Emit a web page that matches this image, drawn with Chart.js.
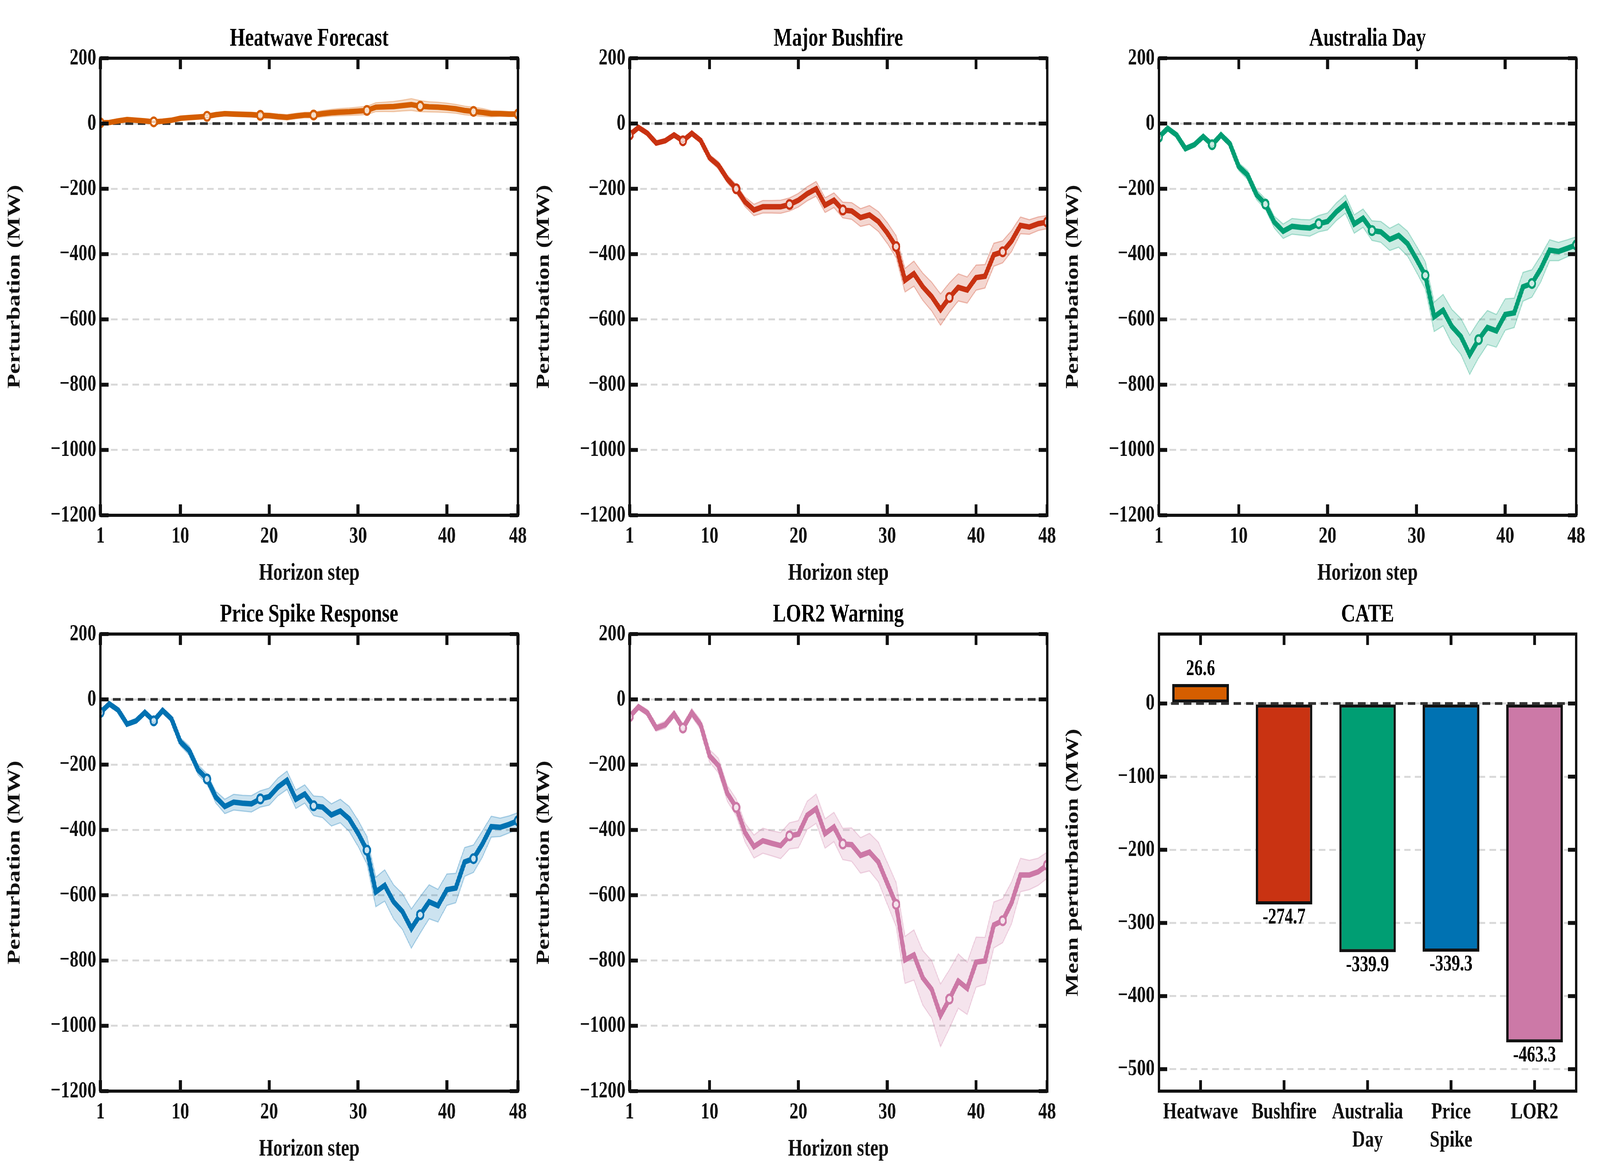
<!DOCTYPE html>
<html><head><meta charset="utf-8">
<script src="https://cdn.jsdelivr.net/npm/chart.js@4.4.1/dist/chart.umd.min.js"></script>
<style>html,body{margin:0;padding:0;background:#fff;overflow:hidden}#wrap{position:absolute;left:0;top:0;width:5400px;height:3000px;transform-origin:0 0}canvas{position:absolute}</style>
</head><body><div id="wrap"></div>
<script>
const steps = Array.from({length:48},(_,i)=>i+1);
const titles = ["Heatwave Forecast","Major Bushfire","Australia Day","Price Spike Response","LOR2 Warning"];
const colors = ["#D55E00","#C93312","#009E73","#0072B2","#CC79A7"];
const heatwave = [2,3,8,12,10,8,5,7,10,16,18,20,22,27,30,29,28,27,25,24,21,19,23,26,26,30,33,35,36,38,40,50,51,52,55,58,53,51,50,48,45,40,37,34,30,30,29,29];
const bushfire = [-35,-12,-30,-60,-53,-35,-53,-30,-52,-105,-128,-170,-200,-240,-265,-255,-255,-255,-248,-235,-215,-200,-250,-235,-265,-268,-288,-280,-300,-335,-377,-480,-460,-500,-530,-570,-533,-502,-510,-472,-468,-402,-393,-360,-312,-317,-307,-302];
const australiaDay = [-42,-15,-35,-77,-65,-40,-65,-35,-62,-132,-158,-218,-247,-302,-330,-315,-318,-320,-307,-300,-270,-247,-308,-290,-328,-332,-355,-343,-368,-415,-465,-592,-572,-622,-652,-708,-662,-625,-635,-585,-580,-500,-490,-445,-388,-392,-382,-372];
const priceSpike = [-40,-14,-33,-76,-66,-40,-66,-34,-60,-130,-157,-216,-244,-300,-328,-315,-318,-320,-305,-298,-268,-248,-306,-290,-326,-330,-354,-342,-366,-410,-462,-590,-570,-620,-650,-702,-660,-620,-632,-583,-578,-498,-488,-443,-390,-392,-383,-372];
const lor2 = [-53,-23,-41,-88,-78,-45,-88,-41,-78,-173,-203,-288,-331,-408,-451,-433,-441,-448,-418,-413,-355,-335,-411,-391,-443,-445,-478,-468,-498,-563,-628,-798,-783,-853,-888,-968,-918,-863,-885,-805,-801,-691,-678,-623,-538,-538,-528,-508];
const bandHalf = [4,5,6,6,7,7,8,8,9,12,14,15,16,18,22,24,24,25,25,26,27,28,28,28,30,32,34,36,38,40,42,45,48,52,55,60,56,52,50,48,45,44,42,40,32,28,26,25];
const bandScale = [0.3,0.8,1,1,1.6];
const markerSteps = [1,7,13,19,25,31,37,43,48];
const xTicks = [1,10,20,30,40,48];
const yTicks = [200,0,-200,-400,-600,-800,-1000,-1200];
const cateLabels = [["Heatwave"],["Bushfire"],["Australia","Day"],["Price","Spike"],["LOR2"]];
const cateValues = [26.6,-274.7,-339.9,-339.3,-463.3];
const cateTicks = [0,-100,-200,-300,-400,-500];
const series = [heatwave,bushfire,australiaDay,priceSpike,lor2];

const wrap=document.getElementById('wrap');
wrap.style.transform=`scale(${innerWidth/5400},${innerHeight/3000})`;

const FONT = "'Liberation Serif','Times New Roman',serif";
const PL=330, PT=140, PR=60, PB=190;
const cols=[339,2125,3911], rows=[149,1623], PW=1409, PH=1170;

function hexA(h,a){const n=parseInt(h.slice(1),16);return `rgba(${n>>16},${(n>>8)&255},${n&255},${a})`;}
function fmt(v){return v<0?'\u2212'+Math.abs(v):String(v);}

function framePlugin(title, zeroOnTop, xtickPos){
  return {
    id:'frame',
    beforeDatasetsDraw(c){ if(!zeroOnTop) zero(c); },
    afterDatasetsDraw(c){ if(zeroOnTop) zero(c); },
    afterDraw(c){
      const a=c.chartArea, ctx=c.ctx, y=c.scales.y;
      ctx.save();
      ctx.strokeStyle='#111'; ctx.lineWidth=8;
      ctx.strokeRect(a.left,a.top,a.right-a.left,a.bottom-a.top);
      ctx.lineWidth=10;
      const L=28;
      y.ticks.forEach(t=>{const py=y.getPixelForValue(t.value);
        ctx.beginPath();ctx.moveTo(a.left,py);ctx.lineTo(a.left+L,py);ctx.moveTo(a.right,py);ctx.lineTo(a.right-L,py);ctx.stroke();});
      xtickPos(c).forEach(px=>{
        ctx.beginPath();ctx.moveTo(px,a.bottom);ctx.lineTo(px,a.bottom-L);ctx.moveTo(px,a.top);ctx.lineTo(px,a.top+L);ctx.stroke();});
      ctx.fillStyle='#000'; ctx.font=`bold 66px ${FONT}`; ctx.textAlign='center'; ctx.textBaseline='bottom';
      ctx.fillText(title,(a.left+a.right)/2,a.top-16);
      ctx.restore();
    }
  };
  function zero(c){
    const a=c.chartArea, ctx=c.ctx, py=c.scales.y.getPixelForValue(0);
    ctx.save(); ctx.strokeStyle='#333'; ctx.lineWidth=7; ctx.setLineDash([26,16]);
    ctx.beginPath(); ctx.moveTo(a.left,py); ctx.lineTo(a.right,py); ctx.stroke(); ctx.restore();
  }
}

function makeCanvas(px,py){
  const cv=document.createElement('canvas');
  const w=PW+PL+PR, h=PH+PT+PB;
  cv.width=w; cv.height=h; cv.style.width=w+'px'; cv.style.height=h+'px';
  cv.style.left=(px-PL)+'px'; cv.style.top=(py-PT)+'px';
  wrap.appendChild(cv); return cv;
}

const tickFont={family:FONT,size:60,weight:'bold'};
const titleFont={family:FONT,size:62,weight:'bold'};
const gridOpt={color:'#d9d9d9',lineWidth:5,drawTicks:false};
const yBorder={display:false,dash:[22,14]};

const positions=[[0,0],[1,0],[2,0],[0,1],[1,1]];
series.forEach((vals,i)=>{
  const [ci,ri]=positions[i];
  const cv=makeCanvas(cols[ci],rows[ri]);
  const col=colors[i];
  const lo=vals.map((v,k)=>({x:steps[k],y:v-bandHalf[k]*bandScale[i]}));
  const hi=vals.map((v,k)=>({x:steps[k],y:v+bandHalf[k]*bandScale[i]}));
  new Chart(cv,{
    type:'line',
    data:{datasets:[
      {data:lo,borderColor:hexA(col,0.3),borderWidth:3,pointRadius:0,fill:false},
      {data:hi,borderColor:hexA(col,0.3),borderWidth:3,pointRadius:0,fill:'-1',backgroundColor:hexA(col,0.2)},
      {data:vals.map((v,k)=>({x:steps[k],y:v})),borderColor:col,borderWidth:14,fill:false,
       pointRadius:ctx=>markerSteps.includes(steps[ctx.dataIndex])?11:0,
       pointBackgroundColor:'#fff',pointBorderColor:col,pointBorderWidth:6}
    ]},
    options:{responsive:false,animation:false,devicePixelRatio:1,
      layout:{padding:{left:0,top:PT,right:PR,bottom:0}},
      plugins:{legend:{display:false},tooltip:{enabled:false}},
      scales:{
        x:{type:'linear',min:1,max:48,grid:{display:false},border:{display:false},
          afterBuildTicks:s=>{s.ticks=xTicks.map(v=>({value:v}));},
          afterFit:s=>{s.height=PB;},
          ticks:{font:tickFont,color:'#111',padding:10,maxRotation:0,callback:v=>String(v)},
          title:{display:true,text:'Horizon step',font:titleFont,color:'#111',padding:{top:0}}},
        y:{min:-1200,max:200,border:yBorder,grid:gridOpt,
          afterBuildTicks:s=>{s.ticks=yTicks.map(v=>({value:v}));},
          afterFit:s=>{s.width=PL;},
          ticks:{font:tickFont,color:'#111',padding:14,callback:v=>fmt(v)},
          title:{display:true,text:'Perturbation (MW)',font:titleFont,color:'#111',padding:{bottom:8}}}
      }},
    plugins:[framePlugin(titles[i],false,c=>xTicks.map(v=>c.scales.x.getPixelForValue(v)))]
  });
});

{
  const cv=makeCanvas(cols[2],rows[1]);
  const labelPlugin={id:'vals',afterDatasetsDraw(c){
    const ctx=c.ctx, meta=c.getDatasetMeta(0);
    ctx.save(); ctx.fillStyle='#000'; ctx.font=`bold 56px ${FONT}`; ctx.textAlign='center';
    meta.data.forEach((b,k)=>{const v=cateValues[k];
      if(v>=0){ctx.textBaseline='bottom';ctx.fillText(v.toFixed(1),b.x,b.y-10);}
      else{ctx.textBaseline='top';ctx.fillText('-'+Math.abs(v).toFixed(1),b.x,b.y+6);}
    }); ctx.restore();}};
  new Chart(cv,{
    type:'bar',
    data:{labels:cateLabels,datasets:[{data:cateValues,backgroundColor:colors,borderColor:'#111',borderWidth:8,borderSkipped:false,barPercentage:0.68,categoryPercentage:1}]},
    options:{responsive:false,animation:false,devicePixelRatio:1,
      layout:{padding:{left:0,top:PT,right:PR,bottom:0}},
      plugins:{legend:{display:false},tooltip:{enabled:false}},
      scales:{
        x:{grid:{display:false},border:{display:false},afterFit:s=>{s.height=PB;},
          ticks:{font:tickFont,color:'#111',padding:10,maxRotation:0,autoSkip:false}},
        y:{min:-530,max:95,border:yBorder,grid:gridOpt,
          afterBuildTicks:s=>{s.ticks=cateTicks.map(v=>({value:v}));},
          afterFit:s=>{s.width=PL;},
          ticks:{font:tickFont,color:'#111',padding:14,callback:v=>fmt(v)},
          title:{display:true,text:'Mean perturbation (MW)',font:titleFont,color:'#111',padding:{bottom:8}}}
      }},
    plugins:[labelPlugin,framePlugin('CATE',true,c=>cateValues.map((v,k)=>c.scales.x.getPixelForValue(k)))]
  });
}
</script>
</body></html>
